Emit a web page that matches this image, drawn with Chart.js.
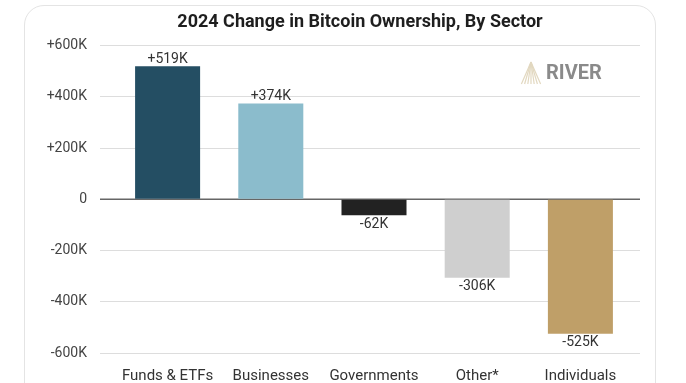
<!DOCTYPE html>
<html lang="en">
<head>
    <meta charset="UTF-8">
    <title>2024 Change in Bitcoin Ownership, By Sector</title>
    <script src="https://cdn.jsdelivr.net/npm/chart.js"></script>
    <style>
        body { margin: 0; background: #fff; width: 686px; height: 383px; overflow: hidden; position: relative; }
        #card { position: absolute; left: 24px; top: 5px; width: 630px; height: 420px; border: 1px solid #e4e4e4; border-radius: 20px; }
        #wrap { position: absolute; left: 0; top: 0; width: 686px; height: 383px; }
    </style>
</head>
<body>
    <div id="card"></div>
    <div id="wrap"><canvas id="sectorChart"></canvas></div>

    <script>
        // Dati (migliaia di BTC)
        const sectors = ['Funds & ETFs', 'Businesses', 'Governments', 'Other*', 'Individuals'];
        const changeK = [519, 374, -62, -306, -525];
        const barColors = ['#244e63', '#8bbccc', '#222222', '#cfcfcf', '#bf9f68'];
        const tickValues = [600, 400, 200, 0, -200, -400, -600];

        function fmtK(v) {
            if (v === 0) return '0';
            return (v > 0 ? '+' : '') + v + 'K';
        }

        // Linea dello zero, estesa oltre l'area del grafico
        const zeroLine = {
            id: 'zeroLine',
            beforeDatasetsDraw(chart) {
                const ctx = chart.ctx;
                const y = chart.scales.y.getPixelForValue(0);
                ctx.save();
                ctx.strokeStyle = '#666';
                ctx.lineWidth = 1.5;
                ctx.beginPath();
                ctx.moveTo(chart.chartArea.left - 16, y);
                ctx.lineTo(chart.chartArea.right + 8, y);
                ctx.stroke();
                ctx.restore();
            }
        };

        // Etichette sopra/sotto le barre
        const barLabels = {
            id: 'barLabels',
            afterDatasetsDraw(chart) {
                const ctx = chart.ctx;
                const meta = chart.getDatasetMeta(0);
                ctx.save();
                ctx.font = '14px Roboto';
                ctx.fillStyle = '#333';
                ctx.textAlign = 'center';
                meta.data.forEach((bar, i) => {
                    const v = changeK[i];
                    if (v >= 0) {
                        ctx.textBaseline = 'bottom';
                        ctx.fillText(fmtK(v), bar.x, bar.y);
                    } else {
                        ctx.textBaseline = 'top';
                        ctx.fillText(fmtK(v), bar.x, bar.y + 2);
                    }
                });
                ctx.restore();
            }
        };

        // Logo RIVER
        const riverLogo = {
            id: 'riverLogo',
            afterDraw(chart) {
                const ctx = chart.ctx;
                ctx.save();
                ctx.strokeStyle = '#e2d8c0';
                ctx.lineWidth = 1.2;
                const ax = 531, ay = 62, by = 84;
                for (let k = -6; k <= 6; k += 2) {
                    ctx.beginPath();
                    ctx.moveTo(ax, ay);
                    ctx.lineTo(ax + k * 1.6, by);
                    ctx.stroke();
                }
                ctx.fillStyle = '#8a8a8a';
                ctx.font = 'bold 20px Roboto';
                ctx.textBaseline = 'middle';
                ctx.textAlign = 'left';
                ctx.fillText('RIVER', 546, 74);
                ctx.restore();
            }
        };

        const gridColor = ctx => ctx.tick && ctx.tick.value === 0 ? 'rgba(0,0,0,0)' : '#dddddd';

        const ctx = document.getElementById('sectorChart').getContext('2d');
        const sectorChart = new Chart(ctx, {
            type: 'bar',
            data: {
                labels: sectors,
                datasets: [{
                    data: changeK,
                    backgroundColor: barColors,
                    borderWidth: 0,
                    barPercentage: 0.63,
                    categoryPercentage: 1
                }]
            },
            options: {
                responsive: true,
                maintainAspectRatio: false,
                animation: false,
                layout: { padding: { left: 34, right: 0, top: 0, bottom: 0 } },
                plugins: {
                    legend: { display: false },
                    tooltip: { enabled: false },
                    title: {
                        display: true,
                        text: '2024 Change in Bitcoin Ownership, By Sector',
                        color: '#1e1e1e',
                        font: { family: 'Roboto', size: 18, weight: 'bold' },
                        padding: { top: 12, bottom: 12 }
                    }
                },
                scales: {
                    x: {
                        grid: { display: false, drawTicks: false },
                        border: { display: false },
                        ticks: { color: '#333', font: { family: 'Roboto', size: 15 }, padding: 14 },
                        afterFit(scale) { scale.height = 30; }
                    },
                    y: {
                        min: -600,
                        max: 600,
                        afterBuildTicks(scale) { scale.ticks = tickValues.map(v => ({ value: v })); },
                        afterFit(scale) { scale.width = 82; },
                        border: { display: false },
                        grid: {
                            color: gridColor,
                            tickColor: gridColor,
                            drawTicks: true,
                            tickLength: 16
                        },
                        ticks: {
                            color: '#444',
                            font: { family: 'Roboto', size: 14 },
                            padding: 13,
                            callback: v => fmtK(v)
                        }
                    },
                    yRight: {
                        position: 'right',
                        min: -600,
                        max: 600,
                        afterBuildTicks(scale) { scale.ticks = tickValues.map(v => ({ value: v })); },
                        afterFit(scale) { scale.width = 54; },
                        border: { display: false },
                        grid: {
                            color: gridColor,
                            tickColor: gridColor,
                            drawTicks: true,
                            tickLength: 8
                        },
                        ticks: { display: false }
                    }
                }
            },
            plugins: [zeroLine, barLabels, riverLogo]
        });
    </script>
</body>
</html>
